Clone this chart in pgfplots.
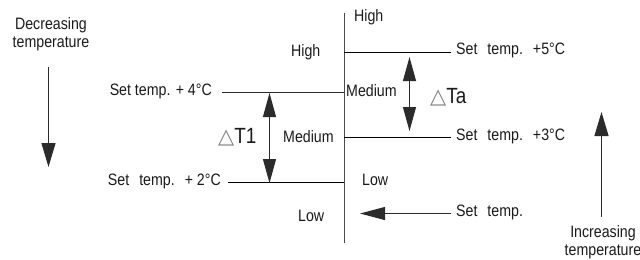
\documentclass[border=0pt]{standalone}
\usepackage{fontspec}
\setmainfont{Liberation Sans}[FakeStretch=0.86]
\newfontfamily\symfont{DejaVu Sans}
\usepackage{pgfplots}
\pgfplotsset{compat=1.18}
\usetikzlibrary{arrows.meta}
\definecolor{ln}{HTML}{2B2B2B}
\definecolor{tx}{HTML}{1A1A1A}
\newcommand\wsp{\hspace{10bp}}
\newcommand\tri{{\symfont\color{gray}\fontsize{21bp}{21bp}\selectfont △}}
\begin{document}
\begin{tikzpicture}
\fontsize{16.5bp}{19bp}\selectfont
\begin{axis}[at={(0,0)}, anchor=south west, width=640bp, height=260bp, scale only axis,
  xmin=0, xmax=640, ymin=0, ymax=260, y dir=reverse, hide axis, clip=false,
  cycle list={{ln, no marks, line width=1.1bp}}]
% central vertical line
\addplot[line width=1.5bp, color=ln!85, no marks] coordinates {(344.5,13) (344.5,243)};
% right levels
\addplot coordinates {(344,52.5) (451,52.5)};
\addplot coordinates {(344,137.5) (451,137.5)};
% left levels
\addplot coordinates {(222,92.5) (344,92.5)};
\addplot coordinates {(228,182.5) (344,182.5)};
% set temp arrow (points left)
\addplot[ln, no marks, line width=1.1bp, -{Triangle[length=25bp,width=13bp]}] coordinates {(451,213.5) (360,213.5)};
% Delta Ta double arrow
\addplot[ln, no marks, line width=1.1bp, {Triangle[length=24bp,width=13bp]}-{Triangle[length=24bp,width=13bp]}] coordinates {(409.5,57) (409.5,131)};
% Delta T1 double arrow
\addplot[ln, no marks, line width=1.1bp, {Triangle[length=24bp,width=13bp]}-{Triangle[length=24bp,width=13bp]}] coordinates {(269.5,93) (269.5,183)};
% decreasing arrow
\addplot[ln, no marks, line width=1.1bp, -{Triangle[length=24bp,width=14bp]}] coordinates {(48.5,67) (48.5,167)};
% increasing arrow
\addplot[ln, no marks, line width=1.1bp, -{Triangle[length=24bp,width=14bp]}] coordinates {(601.5,217) (601.5,112)};

\begin{scope}[every node/.style={text=tx, inner sep=0pt, font=\fontsize{16.5bp}{19bp}\selectfont}]
\node[anchor=west] at (354,17) {High};
\node[anchor=west] at (291,52) {High};
\node[anchor=west] at (346,91) {Medium};
\node[anchor=west] at (283,137) {Medium};
\node[anchor=west] at (362,180) {Low};
\node[anchor=west] at (298,216) {Low};
\node[anchor=west] at (456,50) {Set\wsp temp.\wsp +5°C};
\node[anchor=west] at (456,136) {Set\wsp temp.\wsp +3°C};
\node[anchor=west] at (456,212) {Set\wsp temp.};
\node[anchor=east] at (212,91) {Set temp. + 4°C};
\node[anchor=east] at (221,181) {Set\wsp temp.\wsp + 2°C};
\node[align=center, font=\fontsize{16.5bp}{18bp}\selectfont] at (51,34) {Decreasing\\temperature};
\node[align=center, font=\fontsize{16.5bp}{18bp}\selectfont] at (603,242) {Increasing\\temperature};
\node[anchor=west, font=\fontsize{22bp}{22bp}\selectfont] at (430,97) {\tri Ta};
\node[anchor=west, font=\fontsize{22bp}{22bp}\selectfont] at (218,137) {\tri T1};
\end{scope}
\end{axis}
\pgfresetboundingbox
\useasboundingbox (0,0) rectangle (640bp,260bp);
\end{tikzpicture}
\end{document}
